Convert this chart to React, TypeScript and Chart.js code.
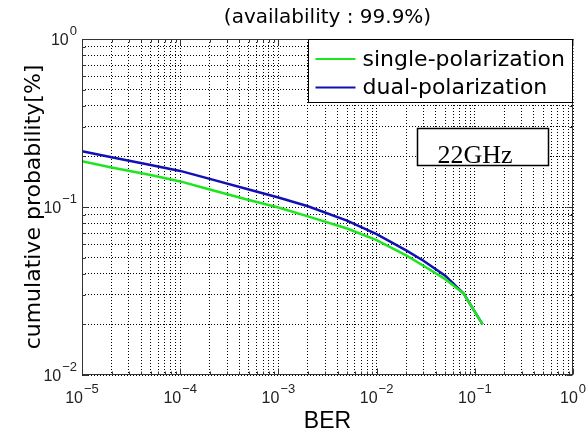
import React, { useEffect, useRef } from 'react';
import { Chart, registerables } from 'chart.js';

Chart.register(...registerables);

// ---- data ----
const chartTitle = '(availability : 99.9%)';
const xAxisTitle = 'BER';
const yAxisTitle = 'cumulative probability[%]';
const bandLabel = '22GHz';
const seriesLabels = ['single-polarization', 'dual-polarization'];
const seriesColors = ['#1ee61e', '#1010b4'];

const berValues = [1e-5, 2e-5, 5e-5, 1e-4, 2e-4, 5e-4, 1e-3, 2e-3, 5e-3, 1e-2, 2e-2, 3e-2, 5e-2, 7.7e-2, 0.12];
const singlePolarization = [0.187, 0.172, 0.155, 0.142, 0.127, 0.110, 0.0993, 0.088, 0.0745, 0.0635, 0.0515, 0.0447, 0.0372, 0.0305, 0.02];
const dualPolarization = [0.215, 0.198, 0.178, 0.164, 0.147, 0.127, 0.114, 0.101, 0.083, 0.069, 0.0552, 0.0479, 0.039, 0.0305, 0.02];

const xDecades = [-5, -4, -3, -2, -1, 0];
const yDecades = [-2, -1, 0];
const mantissas = [1, 2, 3, 4, 5, 6, 7, 8, 9];

const supMap: Record<string, string> = {
  '-': '⁻', '0': '⁰', '1': '¹', '2': '²', '3': '³', '4': '⁴',
  '5': '⁵', '6': '⁶', '7': '⁷', '8': '⁸', '9': '⁹',
};

function tickValues(decades: number[]): number[] {
  const out: number[] = [];
  const last = decades[decades.length - 1];
  decades.forEach((d) => {
    if (d === last) {
      out.push(Math.pow(10, d));
    } else {
      mantissas.forEach((m) => out.push(parseFloat((m * Math.pow(10, d)).toPrecision(6))));
    }
  });
  return out;
}

function decadeOf(v: number): number | null {
  const e = Math.log10(v);
  const r = Math.round(e);
  return Math.abs(e - r) < 1e-6 ? r : null;
}

function powLabel(v: number): string {
  const e = decadeOf(v);
  if (e === null) return '';
  return '10' + String(e).split('').map((c) => supMap[c] || c).join('');
}

const xTicks = tickValues(xDecades);
const yTicks = tickValues(yDecades);

function drawPow(ctx: any, e: number, x: number, baseY: number, align: 'center' | 'right') {
  const base = '10';
  const exp = e < 0 ? '\u2212' + Math.abs(e) : String(e);
  ctx.font = '16px "Liberation Sans"';
  const wb = ctx.measureText(base).width;
  ctx.font = '13px "Liberation Sans"';
  const we = ctx.measureText(exp).width;
  const total = wb + 1 + we;
  const left = align === 'center' ? x - total / 2 : x - total;
  ctx.fillStyle = '#222';
  ctx.textAlign = 'left';
  ctx.textBaseline = 'alphabetic';
  ctx.font = '16px "Liberation Sans"';
  ctx.fillText(base, left, baseY);
  ctx.font = '13px "Liberation Sans"';
  ctx.fillText(exp, left + wb + 1, baseY - 10);
}

const framePlugin = {
  id: 'frameAndLegend',
  afterDraw(chart: any) {
    const { ctx, chartArea: a } = chart;
    const xs = chart.scales.x;
    const ys = chart.scales.y;
    const L = Math.round(a.left) + 0.5;
    const R = Math.round(a.right) - 0.5;
    const T = Math.round(a.top) + 0.5;
    const B = Math.round(a.bottom) - 0.5;
    ctx.save();
    ctx.strokeStyle = '#333';
    ctx.lineWidth = 1;
    ctx.setLineDash([]);
    // inward tick marks
    ctx.beginPath();
    xs.ticks.forEach((t: any) => {
      const px = Math.round(xs.getPixelForValue(t.value)) + 0.5;
      const len = decadeOf(t.value) !== null ? 6 : 3;
      ctx.moveTo(px, B); ctx.lineTo(px, B - len);
      ctx.moveTo(px, T); ctx.lineTo(px, T + len);
    });
    ys.ticks.forEach((t: any) => {
      const py = Math.round(ys.getPixelForValue(t.value)) + 0.5;
      const len = decadeOf(t.value) !== null ? 6 : 3;
      ctx.moveTo(L, py); ctx.lineTo(L + len, py);
      ctx.moveTo(R, py); ctx.lineTo(R - len, py);
    });
    ctx.stroke();
    // box
    ctx.strokeRect(L, T, R - L, B - T);

    // decade tick labels (10 with raised exponent)
    xs.ticks.forEach((t: any) => {
      const e = decadeOf(t.value);
      if (e === null) return;
      drawPow(ctx, e, xs.getPixelForValue(t.value), a.bottom + 28, 'center');
    });
    ys.ticks.forEach((t: any) => {
      const e = decadeOf(t.value);
      if (e === null) return;
      drawPow(ctx, e, a.left - 5, ys.getPixelForValue(t.value) + 6, 'right');
    });

    // legend
    const lw = 265, lh = 63;
    const lx = Math.round(a.right - lw) + 0.5;
    const ly = T;
    ctx.fillStyle = '#fff';
    ctx.fillRect(lx, ly, lw, lh);
    ctx.strokeStyle = '#000';
    ctx.strokeRect(lx, ly, R - lx, lh);
    ctx.font = '22px "DejaVu Sans"';
    ctx.textBaseline = 'middle';
    ctx.textAlign = 'left';
    chart.data.datasets.forEach((ds: any, i: number) => {
      const ry = ly + 19.5 + i * 28.5;
      ctx.strokeStyle = ds.borderColor;
      ctx.lineWidth = 2;
      ctx.beginPath();
      ctx.moveTo(lx + 7, ry); ctx.lineTo(lx + 47, ry);
      ctx.stroke();
      ctx.fillStyle = '#000';
      ctx.fillText(ds.label, lx + 54, ry + 1);
    });

    // band label box
    const bx = Math.round(a.right - 156) + 0.5;
    const by = Math.round(a.top + 89) + 0.5;
    ctx.fillStyle = '#fff';
    ctx.fillRect(bx, by, 131, 37);
    ctx.strokeStyle = '#000';
    ctx.lineWidth = 1.5;
    ctx.strokeRect(bx, by, 131, 37);
    ctx.fillStyle = '#000';
    ctx.font = '26px "Liberation Serif"';
    ctx.textBaseline = 'alphabetic';
    ctx.fillText(bandLabel, bx + 20, by + 34);
    ctx.restore();
  },
};

export default function App() {
  const canvasRef = useRef<HTMLCanvasElement | null>(null);

  useEffect(() => {
    const canvas = canvasRef.current;
    if (!canvas) return;
    const seriesValues = [singlePolarization, dualPolarization];
    const chart = new Chart(canvas, {
      type: 'line',
      data: {
        datasets: seriesValues.map((vals, i) => ({
          label: seriesLabels[i],
          data: berValues.map((x, j) => ({ x, y: vals[j] })),
          borderColor: seriesColors[i],
          backgroundColor: seriesColors[i],
          borderWidth: 2.5,
          pointRadius: 0,
          tension: 0,
          fill: false,
        })),
      },
      options: {
        animation: false,
        responsive: false,
        maintainAspectRatio: false,
        devicePixelRatio: 1,
        layout: { padding: { left: 0, right: 15, top: 0, bottom: 0 } },
        plugins: {
          legend: { display: false },
          tooltip: { enabled: false },
          title: {
            display: true,
            fullSize: false,
            text: chartTitle,
            color: '#000',
            font: { family: '"DejaVu Sans"', size: 20, weight: 'normal' },
            padding: { top: 6, bottom: 9 },
          },
        },
        scales: {
          x: {
            type: 'logarithmic',
            position: 'bottom',
            min: 1e-5,
            max: 1,
            afterBuildTicks: (s: any) => { s.ticks = xTicks.map((v) => ({ value: v })); },
            afterFit: (s: any) => { s.height = 63; },
            grid: { color: '#000', lineWidth: 1, drawTicks: false },
            border: { display: false, dash: [1, 2] },
            ticks: {
              display: false,
              autoSkip: false,
              maxRotation: 0,
              minRotation: 0,
              callback: (v: any) => powLabel(Number(v)),
            },
            title: {
              display: true,
              text: xAxisTitle,
              color: '#000',
              font: { family: '"Liberation Sans"', size: 23 },
              padding: { top: 0, bottom: 3 },
            },
          },
          y: {
            type: 'logarithmic',
            position: 'left',
            min: 0.01,
            max: 1,
            afterBuildTicks: (s: any) => { s.ticks = yTicks.map((v) => ({ value: v })); },
            afterFit: (s: any) => { s.width = 82; },
            grid: { color: '#000', lineWidth: 1, drawTicks: false },
            border: { display: false, dash: [1, 2] },
            ticks: {
              display: false,
              autoSkip: false,
              callback: (v: any) => powLabel(Number(v)),
            },
            title: {
              display: true,
              text: yAxisTitle,
              color: '#000',
              font: { family: '"DejaVu Sans"', size: 22 },
              padding: { top: 21, bottom: 0 },
            },
          },
        },
      },
      plugins: [framePlugin],
    } as any);
    return () => chart.destroy();
  }, []);

  return (
    <div style={{ position: 'absolute', left: 0, top: 0, width: 588, height: 438, background: '#fff' }}>
      <canvas ref={canvasRef} width={588} height={438} style={{ width: 588, height: 438, display: 'block' }} />
    </div>
  );
}
